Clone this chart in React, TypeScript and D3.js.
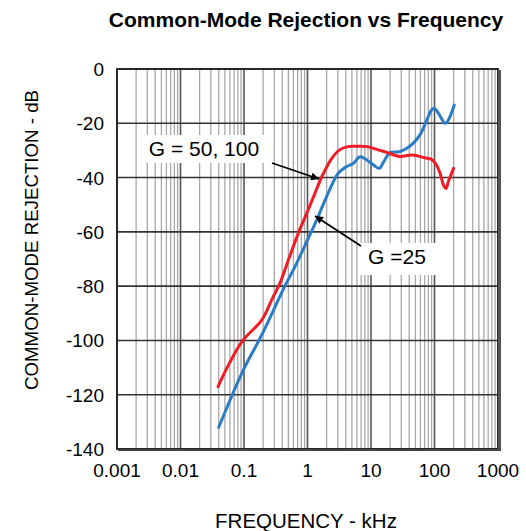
import React from "react";
import * as d3 from "d3";

const xTickValues = [0.001, 0.01, 0.1, 1, 10, 100, 1000];
const xTickLabels = ["0.001", "0.01", "0.1", "1", "10", "100", "1000"];
const yTickValues = [0, -20, -40, -60, -80, -100, -120, -140];
const yTickLabels = ["0", "-20", "-40", "-60", "-80", "-100", "-120", "-140"];

// G = 50, 100 (red)
const redFreq = [0.039, 0.06, 0.096, 0.19, 0.28, 0.37, 0.5, 0.73, 1.0, 1.3, 1.68, 2.4, 3.2, 4.3, 6, 8.6, 12, 18, 28, 45, 70, 90, 105, 122, 140, 152, 165, 200];
const redDb = [-117, -108, -100, -92.5, -84.5, -78.8, -70.4, -60, -52.5, -46, -39.7, -33, -29.8, -28.6, -28.5, -28.6, -29.5, -30.8, -32.2, -31.7, -32.7, -33.3, -35, -38.3, -43, -44, -41.5, -36.6];

// G = 25 (blue)
const blueFreq = [0.04, 0.097, 0.19, 0.44, 0.63, 1.0, 1.4, 2.0, 3.05, 4.1, 5.3, 6.7, 8.6, 11, 13.5, 16, 20, 28, 35, 46, 60, 75, 90, 100, 120, 146, 160, 205];
const blueDb = [-132, -111, -98, -80, -73, -63, -55.6, -47, -38.4, -36, -34.7, -32.3, -33.5, -35.4, -36.6, -34, -30.8, -30.5, -29.5, -27.4, -24, -19, -15.1, -14.5, -17, -20, -19.4, -13.3];

const W = 526;
const H = 531;
const left = 117;
const right = 498;
const top = 69;
const bottom = 449;
const font = "'Liberation Sans', Arial, Helvetica, sans-serif";

export default function App() {
  const x = d3.scaleLog().domain([0.001, 1000]).range([left, right]);
  const y = d3.scaleLinear().domain([0, -140]).range([top, bottom]);

  const minor: number[] = [];
  for (let e = -3; e < 3; e++) {
    for (let m = 2; m <= 9; m++) minor.push(m * Math.pow(10, e));
  }

  const line = d3
    .line<[number, number]>()
    .x((d) => x(d[0]))
    .y((d) => y(d[1]))
    .curve(d3.curveCatmullRom.alpha(0.5));

  const redPts = redFreq.map((f, i) => [f, redDb[i]] as [number, number]);
  const bluePts = blueFreq.map((f, i) => [f, blueDb[i]] as [number, number]);

  return (
    <svg width={W} height={H} style={{ position: "absolute", left: 0, top: 0 }}>
      <defs>
        <marker id="ah" viewBox="0 0 10 10" refX="10" refY="5" markerWidth="8" markerHeight="8" orient="auto" markerUnits="userSpaceOnUse">
          <path d="M0,0 L10,5 L0,10 z" fill="#000" />
        </marker>
      </defs>
      <rect x={0} y={0} width={W} height={H} fill="#fff" />
      <text x={306} y={27} textAnchor="middle" fontFamily={font} fontWeight="bold" fontSize={21} fill="#000">
        Common-Mode Rejection vs Frequency
      </text>
      {minor.map((v, i) => (
        <line key={"m" + i} x1={x(v)} x2={x(v)} y1={top} y2={bottom} stroke="#a8a8a8" strokeWidth={1.3} />
      ))}
      {xTickValues.map((v, i) => (
        <line key={"M" + i} x1={x(v)} x2={x(v)} y1={top} y2={bottom} stroke="#555" strokeWidth={1.6} />
      ))}
      {yTickValues.map((v, i) => (
        <line key={"h" + i} x1={left} x2={right} y1={y(v)} y2={y(v)} stroke="#333" strokeWidth={1.6} />
      ))}
      <rect x={left} y={top} width={right - left} height={bottom - top} fill="none" stroke="#222" strokeWidth={1.8} />
      <line x1={right + 1.5} x2={right + 1.5} y1={top + 1} y2={bottom + 2} stroke="#555" strokeWidth={3} />
      <line x1={left + 1} x2={right + 3} y1={bottom + 1} y2={bottom + 1} stroke="#444" strokeWidth={2} />

      <path d={line(bluePts) || ""} fill="none" stroke="#2b7cc6" strokeWidth={3} strokeLinejoin="round" strokeLinecap="round" />
      <path d={line(redPts) || ""} fill="none" stroke="#ee1c24" strokeWidth={3} strokeLinejoin="round" strokeLinecap="round" />

      <rect x={140} y={135} width={133} height={28} fill="#fff" />
      <text x={204} y={156} textAnchor="middle" fontFamily={font} fontSize={21} fill="#000">G = 50, 100</text>
      <line x1={272} y1={163} x2={319} y2={179} stroke="#000" strokeWidth={1.8} markerEnd="url(#ah)" />
      <rect x={360} y={243} width={77} height={32} fill="#fff" />
      <text x={397} y={264} textAnchor="middle" fontFamily={font} fontSize={21} fill="#000">G =25</text>
      <line x1={361} y1={246} x2={315} y2={216} stroke="#000" strokeWidth={1.8} markerEnd="url(#ah)" />

      {yTickValues.map((v, i) => (
        <text key={"yt" + i} x={104} y={y(v) + 7} textAnchor="end" fontFamily={font} fontSize={19} fill="#000">
          {yTickLabels[i]}
        </text>
      ))}
      {xTickValues.map((v, i) => (
        <text key={"xt" + i} x={x(v)} y={477} textAnchor="middle" fontFamily={font} fontSize={19} fill="#000">
          {xTickLabels[i]}
        </text>
      ))}
      <text x={306} y={528} textAnchor="middle" fontFamily={font} fontSize={20.5} fill="#000">FREQUENCY - kHz</text>
      <text transform={`translate(38,240) rotate(-90)`} textAnchor="middle" fontFamily={font} fontSize={18.7} fill="#000">
        COMMON-MODE REJECTION - dB
      </text>
    </svg>
  );
}
